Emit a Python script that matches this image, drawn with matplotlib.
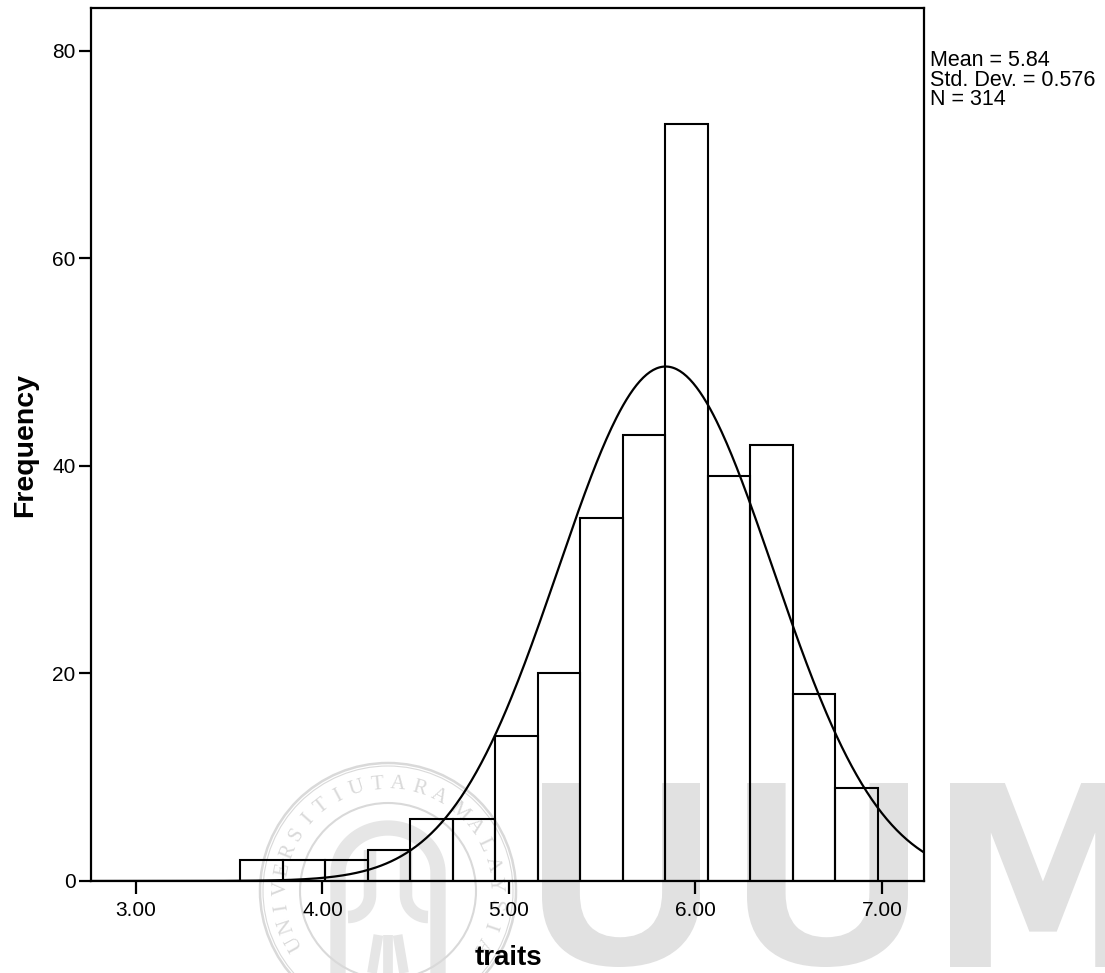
import numpy as np
import matplotlib
matplotlib.use("Agg")
import matplotlib.pyplot as plt
from matplotlib.textpath import TextPath
from matplotlib.font_manager import FontProperties
from matplotlib.patches import PathPatch, Circle
from matplotlib.path import Path
from matplotlib.transforms import Affine2D

plt.rcParams["font.family"] = ["Liberation Sans", "DejaVu Sans"]

# ---- data -------------------------------------------------------------
bin_edges = [3.558, 3.786, 4.014, 4.242, 4.470, 4.698, 4.926, 5.154,
             5.382, 5.610, 5.838, 6.066, 6.294, 6.522, 6.750, 6.978]
counts = [2, 2, 2, 3, 6, 6, 14, 20, 35, 43, 73, 39, 42, 18, 9]

mean_val = 5.84
std_val = 0.576
n_val = 314

x_ticks = [3.0, 4.0, 5.0, 6.0, 7.0]
x_tick_labels = ["3.00", "4.00", "5.00", "6.00", "7.00"]
y_ticks = [0, 20, 40, 60, 80]
y_tick_labels = ["0", "20", "40", "60", "80"]

stats_lines = ["Mean = 5.84", "Std. Dev. = 0.576", "N = 314"]
x_label = "traits"
y_label = "Frequency"

# ---- figure -----------------------------------------------------------
W, H = 1105, 973
fig = plt.figure(figsize=(W / 100, H / 100), dpi=100, facecolor="white")
px = Affine2D().scale(1.0 / W, 1.0 / H) + fig.transFigure  # pixel space, origin bottom-left

wm_color = "#e1e1e1"
ring_color = "#d9d9d9"
seal_fill = "#e6e6e6"


def glyph_in_box(ch, box, color, weight="bold", family="Liberation Sans"):
    """Draw a single glyph stretched into a pixel box (x0, top, x1, bottom)."""
    x0, top, x1, bottom = box
    tp = TextPath((0, 0), ch, size=100,
                  prop=FontProperties(family=family, weight=weight))
    ext = tp.get_extents()
    sx = (x1 - x0) / ext.width
    sy = (bottom - top) / ext.height
    tr = (Affine2D().translate(-ext.x0, -ext.y0).scale(sx, sy)
          .translate(x0, H - bottom))
    patch = PathPatch(tr.transform_path(tp), facecolor=color,
                      edgecolor="none", transform=px, zorder=-5)
    fig.add_artist(patch)


# large letters in the background
glyph_in_box("U", (542, 783, 700, 967), wm_color)
glyph_in_box("U", (747, 783, 908, 967), wm_color)
glyph_in_box("M", (950, 783, 1136, 967), wm_color, family="DejaVu Sans")

# round seal in the background
cx, cy = 388, H - 891
fig.add_artist(Circle((cx, cy), 128, transform=px, fill=False,
                      edgecolor=ring_color, linewidth=1.8, zorder=-5))
fig.add_artist(Circle((cx, cy), 125, transform=px, fill=False,
                      edgecolor=ring_color, linewidth=0.8, zorder=-5))
fig.add_artist(Circle((cx, cy), 88, transform=px, fill=False,
                      edgecolor=ring_color, linewidth=1.5, zorder=-5))

seal_words = [("UNIVERSITI", 209, 118), ("UTARA", 107, 62), ("MALAYSIA", 48, -30)]
for word, a0, a1 in seal_words:
    angs = np.linspace(a0, a1, len(word))
    for ch, a in zip(word, angs):
        r = 107
        xx = cx + r * np.cos(np.radians(a))
        yy = cy + r * np.sin(np.radians(a))
        fig.text(xx, yy, ch, transform=px, rotation=a - 90,
                 rotation_mode="anchor", ha="center", va="center",
                 fontsize=15, family="Liberation Serif", color=ring_color,
                 zorder=-5)

# arch and pillars inside the seal
t = np.linspace(np.pi, 0, 60)
arch_x = np.concatenate([[338], 388 + 50 * np.cos(t), [438]])
arch_y = np.concatenate([[0], (H - 873) + 45 * np.sin(t), [0]])
fig.add_artist(PathPatch(Path(np.column_stack([arch_x, arch_y])), fill=False,
                         edgecolor=seal_fill, linewidth=11, transform=px,
                         zorder=-6))
for sgn in (-1, 1):
    tt = np.linspace(0, np.pi / 2, 30)
    pill_x = np.concatenate([[388 + sgn * 18], 388 + sgn * (18 + 22 * (1 - np.cos(tt)))])
    pill_y = np.concatenate([[H - 850], (H - 895) - 22 * np.sin(tt)])
    fig.add_artist(PathPatch(Path(np.column_stack([pill_x, pill_y])), fill=False,
                             edgecolor=seal_fill, linewidth=9, transform=px,
                             zorder=-6))
for dx in (-16, 0, 16):
    fig.add_artist(PathPatch(Path([[388 + dx, 0], [388 + dx * 0.6, H - 935]]),
                             fill=False, edgecolor=seal_fill, linewidth=7,
                             transform=px, zorder=-6))

# ---- axes -------------------------------------------------------------
left, right, bottom, top = 91, 923.5, 881, 7.5
ax = fig.add_axes([left / W, 1 - bottom / H, (right - left) / W, (bottom - top) / H])
ax.patch.set_visible(False)

widths = np.diff(bin_edges)
ax.bar(bin_edges[:-1], counts, width=widths, align="edge",
       facecolor="none", edgecolor="black", linewidth=1.5, zorder=2)

xlim = (2.759, 7.2225)
ylim = (0, 84.19)
ax.set_xlim(*xlim)
ax.set_ylim(*ylim)

# normal curve from the reported mean, std. dev. and N
bw = widths.mean()
xs = np.linspace(xlim[0], xlim[1], 500)
ys = n_val * bw / (std_val * np.sqrt(2 * np.pi)) * np.exp(-0.5 * ((xs - mean_val) / std_val) ** 2)
ax.plot(xs, ys, color="black", linewidth=1.6, zorder=3, clip_on=True)

for s in ax.spines.values():
    s.set_linewidth(1.6)
    s.set_color("black")

ax.set_xticks(x_ticks)
ax.set_xticklabels(x_tick_labels)
ax.set_yticks(y_ticks)
ax.set_yticklabels(y_tick_labels)
ax.tick_params(axis="x", direction="out", length=9.5, width=1.6, pad=5, labelsize=15)
ax.tick_params(axis="y", direction="out", length=9, width=1.6, pad=2, labelsize=15)

# axis titles and summary statistics
fig.text(25 / W, 1 - 445 / H, y_label, rotation=90, ha="center", va="center",
         fontsize=20.5, fontweight="bold")
fig.text(508 / W, 1 - 965 / H, x_label, ha="center", va="baseline",
         fontsize=20, fontweight="bold")
for line, base in zip(stats_lines, [66, 86, 105]):
    fig.text(930 / W, 1 - base / H, line, ha="left", va="baseline", fontsize=15.5)

fig.savefig("out.png", dpi=100, facecolor="white")
